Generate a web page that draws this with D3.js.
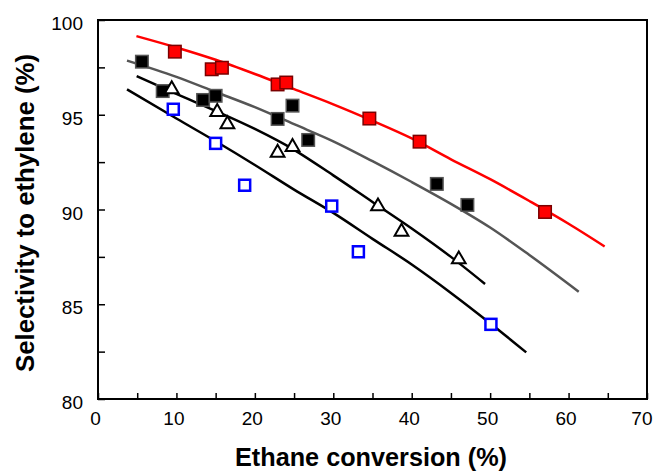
<!DOCTYPE html>
<html><head><meta charset="utf-8">
<script src="https://cdn.jsdelivr.net/npm/d3@7"></script>
<style>body{margin:0;background:#fff}svg{display:block}</style>
</head><body>
<svg id="c" width="655" height="473"></svg>
<script>
// Data
const xTicks = [0,10,20,30,40,50,60,70];
const yTicks = [80,85,90,95,100];

// Series 1: red filled squares
const redX = [9.8,14.5,15.8,22.9,24.0,34.6,41.0,57.0];
const redY = [98.33,97.4,97.48,96.6,96.7,94.8,93.58,89.87];
// Series 2: black filled squares
const blackX = [5.6,8.25,13.4,15.0,22.9,24.8,26.8,43.2,47.1];
const blackY = [97.8,96.25,95.78,96.0,94.78,95.48,93.67,91.35,90.24];
// Series 3: open triangles
const triX = [9.4,15.2,16.5,22.9,24.8,35.7,38.7,46.0];
const triY = [96.4,95.2,94.55,93.05,93.35,90.22,88.88,87.42];
// Series 4: open blue squares
const blueX = [9.6,15.0,18.7,29.8,33.2,50.1];
const blueY = [95.29,93.49,91.28,90.18,87.77,83.94];

// Fitted curves
const redLineX = [4.9,10,15,20,25,30,35,40,45,50,55,60,64.6];
const redLineY = [99.15,98.55,97.9,97.15,96.35,95.55,94.68,93.75,92.65,91.6,90.45,89.25,88.05];
const grayLineX = [3.7,10,15,20,25,30,35,40,45,50,55,61.3];
const grayLineY = [97.86,97.0,96.2,95.4,94.5,93.6,92.55,91.45,90.3,89.05,87.6,85.66];
const triLineX = [4.93,10,15,20,25,30,35,40,45,49.35];
const triLineY = [97.04,96.1,95.2,94.25,93.15,91.8,90.4,89.0,87.5,86.07];
const blueLineX = [3.7,10,15,20,25,30,35,40,45,50,54.6];
const blueLineY = [96.34,94.8,93.6,92.35,91.05,89.82,88.45,87.1,85.6,84.0,82.46];

const L=98, R=647, T=20, B=399;
const svg = d3.select("#c");
const x = d3.scaleLinear().domain([0,70]).range([L,R]);
const y = d3.scaleLinear().domain([80,100]).range([B,T]);
const font = "Liberation Sans, Arial, Helvetica, sans-serif";

// axes with inward ticks
const xMinor = d3.range(0,71,5);
const yMinor = d3.range(80,100.1,2.5);
svg.append("g").attr("transform",`translate(0,${B})`)
  .call(d3.axisBottom(x).tickValues(xMinor).tickSize(-6).tickFormat(""))
  .call(g=>{g.select(".domain").remove(); g.selectAll("line").attr("stroke","#000").attr("stroke-width",1.5);});
svg.append("g").attr("transform",`translate(0,${B})`)
  .call(d3.axisBottom(x).tickValues(xTicks).tickSize(0).tickPadding(13).tickFormat(d3.format("d")))
  .call(g=>{
    g.select(".domain").remove();
    g.selectAll("text").attr("font-family",font).attr("font-size",19).attr("fill","#000").attr("dx",-3);
    g.selectAll(".tick").filter(d=>d===70).select("text").attr("text-anchor","end").attr("dx",5);
  });
svg.append("g").attr("transform",`translate(${L},0)`)
  .call(d3.axisLeft(y).tickValues(yMinor).tickSize(-7).tickFormat(""))
  .call(g=>{g.select(".domain").remove(); g.selectAll("line").attr("stroke","#000").attr("stroke-width",1.5);});
svg.append("g").attr("transform",`translate(${L},0)`)
  .call(d3.axisLeft(y).tickValues(yTicks).tickSize(0).tickPadding(15).tickFormat(d3.format("d")))
  .call(g=>{g.select(".domain").remove(); g.selectAll("text").attr("font-family",font).attr("font-size",19).attr("fill","#000").attr("dy","0.5em");});

svg.append("rect").attr("x",L).attr("y",T).attr("width",R-L).attr("height",B-T)
  .attr("fill","none").attr("stroke","#000").attr("stroke-width",2);

// titles
svg.append("text").attr("x",371).attr("y",466).attr("text-anchor","middle")
  .attr("font-family",font).attr("font-weight","bold").attr("font-size",26)
  .attr("textLength",272).attr("lengthAdjust","spacingAndGlyphs").text("Ethane conversion (%)");
svg.append("text").attr("transform",`translate(34,213) rotate(-90)`).attr("text-anchor","middle")
  .attr("font-family",font).attr("font-weight","bold").attr("font-size",26)
  .attr("textLength",318).attr("lengthAdjust","spacingAndGlyphs").text("Selectivity to ethylene (%)");

// lines
const line = d3.line().x(d=>x(d[0])).y(d=>y(d[1])).curve(d3.curveMonotoneX);
function drawLine(xs,ys,color){
  svg.append("path").datum(d3.zip(xs,ys)).attr("d",line).attr("fill","none")
    .attr("stroke",color).attr("stroke-width",2.5);
}
drawLine(redLineX,redLineY,"#ff0000");
drawLine(grayLineX,grayLineY,"#555555");
drawLine(triLineX,triLineY,"#000");
drawLine(blueLineX,blueLineY,"#000");

// markers
const S=12.5;
function squares(xs,ys,fill,stroke,sw,size){
  svg.append("g").selectAll("rect").data(d3.zip(xs,ys)).join("rect")
    .attr("x",d=>x(d[0])-size/2).attr("y",d=>y(d[1])-size/2)
    .attr("width",size).attr("height",size)
    .attr("fill",fill).attr("stroke",stroke).attr("stroke-width",sw);
}
squares(blackX,blackY,"#000","#555",1.5,S);
squares(redX,redY,"#ff0000","#7a0000",1.5,S);
squares(blueX,blueY,"#fff","#0000ff",2.5,S-1.5);
const tri = d3.symbol().type(d3.symbolTriangle).size(82);
svg.append("g").selectAll("path").data(d3.zip(triX,triY)).join("path")
  .attr("d",tri).attr("transform",d=>`translate(${x(d[0])},${y(d[1])+1})`)
  .attr("fill","#fff").attr("stroke","#000").attr("stroke-width",2);
</script>
</body></html>
